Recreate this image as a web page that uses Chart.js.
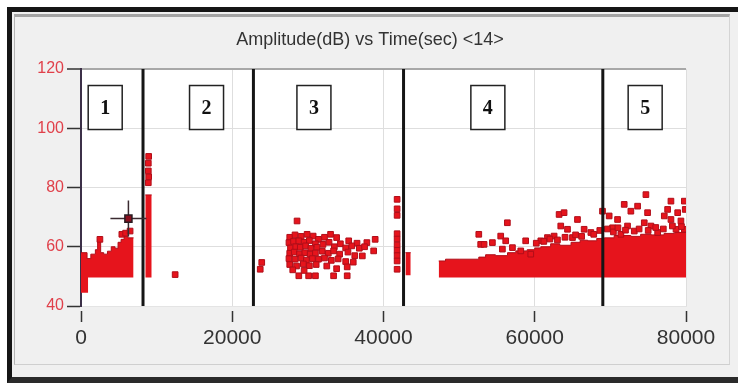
<!DOCTYPE html>
<html>
<head>
<meta charset="utf-8">
<script src="https://cdn.jsdelivr.net/npm/chart.js@4.4.0/dist/chart.umd.min.js"></script>
<style>
  html, body { margin: 0; padding: 0; background: #fff; }
  #frame { position: absolute; left: 7px; top: 7px; width: 731px; height: 376px; box-sizing: border-box;
    border-top: 5px solid #151515; border-left: 5px solid #151515; border-bottom: 6px solid #2a2a2a;
    background: #f0f0f0; }
  #inner { position: absolute; left: 2px; top: 2px; width: 716px; height: 351px; box-sizing: border-box;
    border-top: 3px solid #a4a4a4; border-left: 1px solid #b4b4b4; border-right: 1px solid #d4d4d4;
    border-bottom: 1px solid #cfcfcf; }
  #c { position: absolute; left: 0; top: 0; }
</style>
</head>
<body>
<div id="frame"><div id="inner"></div></div>
<canvas id="c" width="738" height="383"></canvas>
<script>
// time (sec) of the section dividers and the boxed section numbers
const dividerTimes = [8200, 22800, 42650, 69000];
const sectionNames = ['1', '2', '3', '4', '5'];
const sectionLabelTimes = [3200, 16600, 30800, 53800, 74600];

// solid hit bands: step envelope (time, top amplitude)
const band1Time = [0, 800, 1300, 1900, 2200, 2600, 3000, 3500, 4000, 4500, 4900, 5300, 5700, 6200, 6950];
const band1Top  = [58, 56, 57.5, 59, 62.5, 58, 57.5, 58.5, 60, 59.5, 61.5, 62.5, 63.5, 63, 63];
const band1LowTime = [0, 950];
const band1LowTop  = [50, 50];
const band2Time = [8500, 9350];
const band2Top  = [77.5, 77.5];
const band3Time = [42900, 43600];
const band3Top  = [58, 58];
const band4Time = [47300, 48200, 50000, 52600, 53500, 54800, 56400, 57500, 59000, 60000, 60800, 62100,
  63300, 64800, 66000, 67000, 68200, 69200, 70500, 72700, 74000, 75400, 77100, 78500, 80000];
const band4Top  = [55.2, 55.8, 55.8, 56.5, 57.3, 57, 58, 58.6, 59, 59.6, 60, 61,
  60.5, 61.5, 62.2, 62, 62.8, 63, 63.8, 63.5, 64.2, 64, 64.5, 64.8, 64.8];

// single hits (time, amplitude dB)
const hits1 = [[2500, 62.5], [5400, 64.2], [5900, 64.6], [6490, 65.3]];
const hits2 = [[8950, 90.5], [8900, 88.2], [8900, 85.6], [8950, 83.6], [8900, 81.6], [12450, 50.6]];
const hits3 = [
  [23900, 54.7], [23700, 52.4], [28570, 68.7],
  [27600, 63.2], [28300, 64], [29100, 63.5], [29900, 64.2], [30700, 63.6], [31400, 62.5],
  [27500, 61.4], [28100, 61.8], [28800, 62], [29500, 61.5], [30200, 62.1], [31000, 61],
  [27700, 59.6], [28400, 60], [29000, 59.8], [29700, 60.3], [30400, 59.5], [31200, 59.8],
  [27600, 57.8], [28200, 58.2], [28900, 57.6], [29600, 58], [30300, 57.5], [31000, 57.9],
  [27500, 56], [28300, 55.8], [29100, 56.2], [29800, 55.5], [30600, 56], [31400, 55.8],
  [27600, 54], [28500, 53.5], [29400, 54.2], [30200, 53.6], [31100, 54],
  [28800, 50.2], [30100, 50.2], [31000, 50.2], [29500, 52], [28000, 52.2],
  [32200, 63.2], [33000, 64.2], [33800, 63.1], [35400, 62], [36500, 61.2], [37800, 61.4], [38900, 62.5],
  [32000, 60.8], [32800, 61.5], [33500, 60], [34300, 61], [35000, 59.6], [35800, 60.3], [36800, 59.5],
  [37500, 60], [38700, 58.6],
  [31900, 58.5], [32700, 57.8], [33400, 58.6], [34200, 57.5], [35300, 58.2], [36200, 57], [37200, 56.9],
  [32200, 56.2], [33100, 55.4], [34000, 55.9], [35000, 55], [36000, 54.8],
  [32500, 53.5], [33800, 52.6], [35200, 53.2], [33400, 50.2], [35200, 50.2],
  [41800, 76], [41800, 72.8], [41800, 70.6], [41800, 64.4], [41800, 62.6], [41800, 60.6],
  [41800, 58.8], [41800, 57], [41800, 55.2], [41800, 52.4]
];
const hits4 = [
  [52600, 64.2], [52850, 60.8], [53300, 60.8], [54400, 61.4], [55500, 63.6], [56380, 68.1], [56160, 62],
  [57050, 59.7], [55720, 59.2], [58150, 58.6], [58800, 62], [59470, 57.5], [60800, 62], [61680, 63.1],
  [62560, 63.6], [63220, 70.9], [63880, 71.5], [63440, 67], [64330, 65.9], [64990, 63.1], [65650, 69.2],
  [66530, 65.9], [67420, 64.8], [68960, 72], [69840, 70.4], [70290, 66.4], [70950, 69.2], [71390, 64.2],
  [71830, 74.3], [72270, 67], [72710, 72], [73160, 65.3], [73600, 73.7], [74480, 68.1], [74700, 77.6],
  [74920, 71.5], [75360, 67], [76250, 64.8], [77130, 70.4], [77570, 72.6], [78010, 75.4], [78010, 69.2],
  [78680, 65.9], [78900, 71.5], [79330, 68.7], [79780, 75.4], [79780, 65.9], [79900, 72.6],
  [60200, 61.2], [61200, 61.8], [62000, 62.6], [63000, 62.3], [64000, 63.2], [65400, 64], [66200, 63.5],
  [67800, 64.2], [68600, 65.5], [69600, 66], [70400, 65], [71000, 66.4], [72000, 65.6], [73800, 66],
  [75000, 65.5], [76000, 66.5], [77000, 66], [78200, 67], [79400, 66.8]
];
const cursorHit = [6270, 69.5];

const RED = '#e6141c';
const RED_EDGE = '#b00e19';

function band(xs, tops, base) {
  return {
    type: 'line', order: 3,
    data: xs.map((x, i) => ({ x: x, y: tops[i] })),
    stepped: true, fill: { value: base },
    borderColor: RED_EDGE, borderWidth: 1, backgroundColor: RED, pointRadius: 0
  };
}
function points(list) {
  return {
    type: 'line', order: 2, showLine: false,
    data: list.map(p => ({ x: p[0], y: p[1] })),
    pointStyle: 'rect', pointRadius: 4, pointBackgroundColor: RED,
    pointBorderColor: RED_EDGE, pointBorderWidth: 1
  };
}

const datasets = [
  band(band1Time, band1Top, 49.6),
  band(band1LowTime, band1LowTop, 44.5),
  band(band2Time, band2Top, 49.6),
  band(band3Time, band3Top, 50.4),
  band(band4Time, band4Top, 49.6),
  points(hits1), points(hits2), points(hits3), points(hits4)
];
dividerTimes.forEach(t => datasets.push({
  type: 'line', order: 1, data: [{ x: t, y: 40 }, { x: t, y: 120 }],
  borderColor: '#151515', borderWidth: 3, pointRadius: 0, fill: false
}));
// cursor cross
datasets.push({
  type: 'line', order: 0, showLine: false, data: [{ x: cursorHit[0], y: cursorHit[1] }],
  pointStyle: 'cross', pointRadius: 18, pointBorderColor: '#3a2a30', pointBorderWidth: 1.5
});
datasets.push({
  type: 'line', order: -1, showLine: false, data: [{ x: cursorHit[0], y: cursorHit[1] }],
  pointStyle: 'rect', pointRadius: 5, pointBackgroundColor: '#8a0f1e',
  pointBorderColor: '#2a1a20', pointBorderWidth: 1.5
});

const panel = {
  id: 'panel',
  beforeDraw(chart) {
    const { ctx, chartArea: a } = chart;
    ctx.save();
    ctx.fillStyle = '#fff';
    ctx.fillRect(a.left, a.top, a.right - a.left, a.bottom - a.top);
    ctx.fillStyle = '#333';
    ctx.font = '18px "Liberation Sans", Arial, sans-serif';
    ctx.textAlign = 'center';
    ctx.textBaseline = 'middle';
    ctx.fillText('Amplitude(dB) vs Time(sec) <14>', 370, 40);
    ctx.restore();
  },
  afterDatasetsDraw(chart) {
    const { ctx, scales: { x, y } } = chart;
    ctx.save();
    const cy = y.getPixelForValue(107);
    sectionNames.forEach((name, i) => {
      const cx = x.getPixelForValue(sectionLabelTimes[i]);
      ctx.fillStyle = '#fff';
      ctx.fillRect(cx - 17, cy - 22, 34, 44);
      ctx.strokeStyle = '#222';
      ctx.lineWidth = 1.5;
      ctx.strokeRect(cx - 17, cy - 22, 34, 44);
      ctx.fillStyle = '#111';
      ctx.font = 'bold 20px "Liberation Serif", "DejaVu Serif", serif';
      ctx.textAlign = 'center';
      ctx.textBaseline = 'middle';
      ctx.fillText(name, cx, cy + 1);
    });
    ctx.restore();
  }
};

new Chart(document.getElementById('c'), {
  type: 'line',
  data: { datasets: datasets },
  options: {
    responsive: false,
    animation: false,
    layout: { padding: { top: 69, right: 52, left: 0, bottom: 0 } },
    plugins: { legend: { display: false }, tooltip: { enabled: false } },
    scales: {
      x: {
        type: 'linear', min: 0, max: 80000,
        afterFit(s) { s.height = 77; },
        ticks: { stepSize: 20000, color: '#333', padding: 4, maxRotation: 0,
          callback: v => String(v),
          font: { family: '"Liberation Sans", Arial, sans-serif', size: 21 } },
        grid: { color: '#dedede', tickColor: '#333', tickLength: 16, tickWidth: 1.5,
          tickBorderDash: [0, 4, 12, 100] },
        border: { color: '#e4e4e4' }
      },
      y: {
        min: 40, max: 120,
        afterFit(s) { s.width = 81; },
        ticks: { stepSize: 20, color: '#e0404a', padding: 3,
          font: { family: '"Liberation Sans", Arial, sans-serif', size: 16 } },
        grid: { color: ctx => ctx.tick.value === 120 ? '#a8a8a8' : '#dedede',
          lineWidth: ctx => ctx.tick.value === 120 ? 2 : 1,
          tickColor: '#333', tickLength: 14, tickWidth: 1.5 },
        border: { color: '#3c3048', width: 2 }
      }
    }
  },
  plugins: [panel]
});
</script>
</body>
</html>
